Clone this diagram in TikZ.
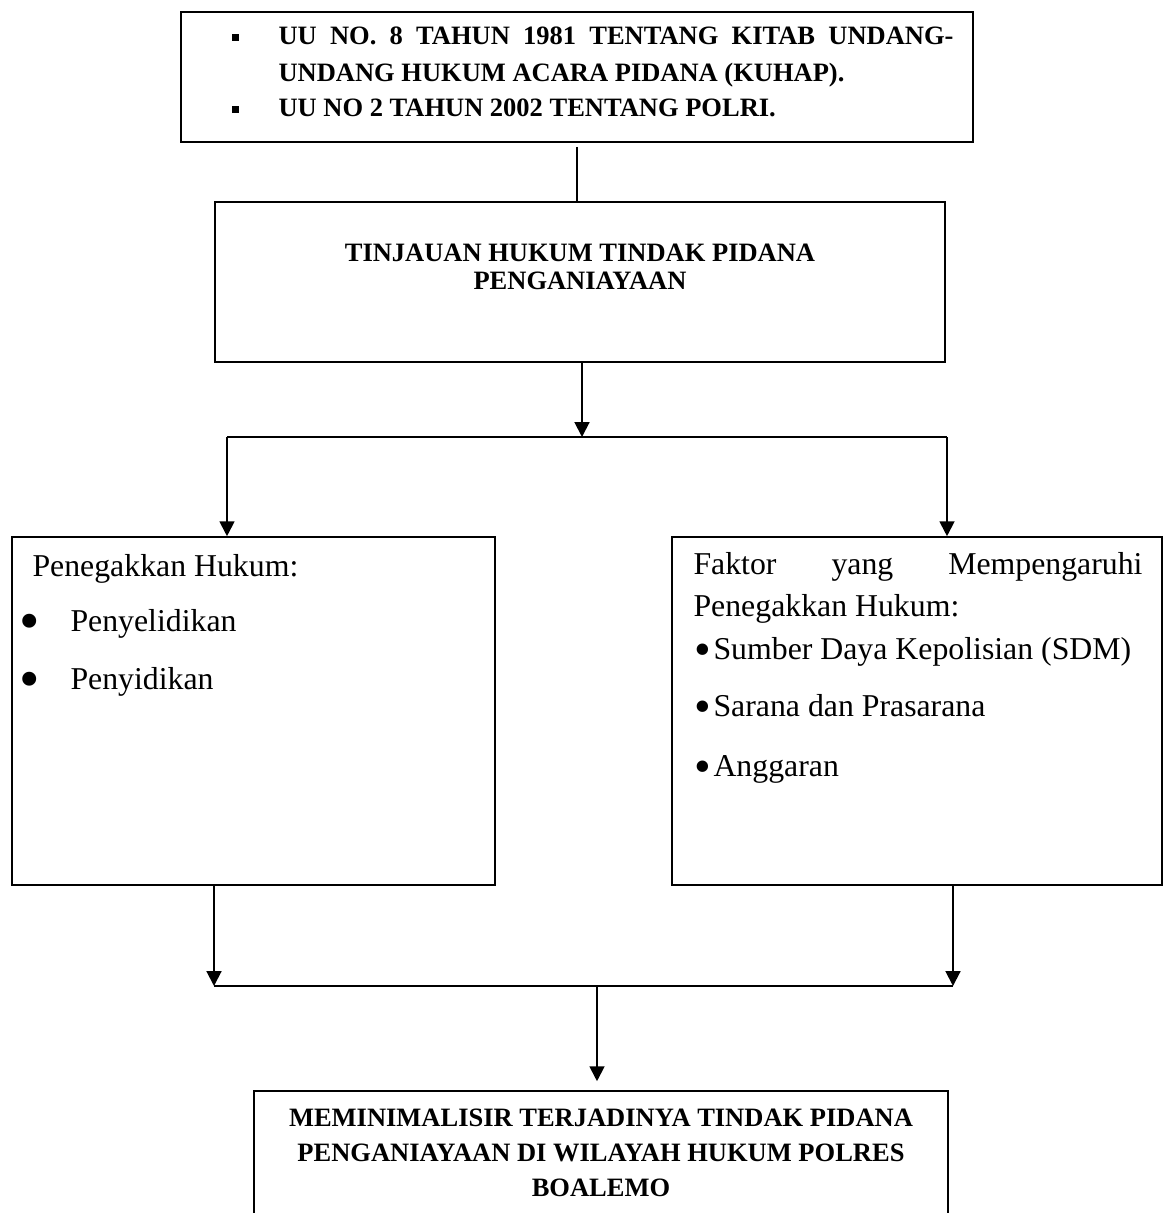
\documentclass[tikz,border=0pt]{standalone}
\usepackage{fontspec}
\setmainfont{Liberation Serif}
\usetikzlibrary{arrows.meta}
\newdimen\unitpx \unitpx=0.3774pt

\begin{document}
\begin{tikzpicture}[
  x=0.3774pt, y=-0.3774pt,
  box/.style={draw=black, line width=0.6pt, rectangle, inner sep=0pt},
  link/.style={line width=0.75pt},
  arrow/.style={link, -{Triangle[length=5.6pt, width=5.6pt]}},
  body/.style={inner sep=0pt, anchor=west, text height=0.7em, text depth=0.2em, font=\fontsize{12}{14}\selectfont},
  caps/.style={body, font=\bfseries\fontsize{10}{12}\selectfont},
  capblock/.style={inner sep=0pt, align=center, font=\bfseries\fontsize{10}{#1}\selectfont},
  dot/.style={inner sep=0pt, font=\fontsize{#1}{#1}\selectfont},
  square/.style={fill=black, inner sep=0pt, minimum size=7\unitpx}
]
\useasboundingbox (0,0) rectangle (1168,1213);
\clip (0,0) rectangle (1168,1213);

% === Boxes ===
\node[box, minimum width=792\unitpx, minimum height=130\unitpx] (lawbox)     at (577,77)   {};
\node[box, minimum width=730\unitpx, minimum height=160\unitpx] (reviewbox)  at (580,282)  {};
\node[box, minimum width=483\unitpx, minimum height=348\unitpx] (enforcebox) at (253.5,711) {};
\node[box, minimum width=490\unitpx, minimum height=348\unitpx] (factorbox)  at (917,711)  {};
\node[box, minimum width=694\unitpx, minimum height=160\unitpx] (goalbox)    at (601,1171) {};

% === Legal basis ===
\node[square] (sqA) at (235,38) {};
\node[square] (sqB) at (235,110) {};
\node[caps] (lawA) at (278,38) {\makebox[675\unitpx][s]{UU NO. 8 TAHUN 1981 TENTANG KITAB UNDANG-}};
\node[caps] (lawB) at (278,75) {UNDANG HUKUM ACARA PIDANA (KUHAP).};
\node[caps] (lawC) at (278,110) {UU NO 2 TAHUN 2002 TENTANG POLRI.};

% === Review ===
\node[capblock=10.6pt] (reviewtxt) at (580,267) {TINJAUAN HUKUM TINDAK PIDANA\\PENGANIAYAAN};

% === Law enforcement ===
\node[body] (enforcehd) at (32,570) {Penegakkan Hukum:};
\node[dot=22pt] (dotA) at (30,627) {\textbullet};
\node[dot=22pt] (dotB) at (30,685) {\textbullet};
\node[body] (inquiry)  at (70,625) {Penyelidikan};
\node[body] (investig) at (70,683) {Penyidikan};

% === Factors ===
\node[body] (factorA) at (693,568) {\makebox[449\unitpx][s]{Faktor yang Mempengaruhi}};
\node[body] (factorB) at (693,610) {Penegakkan Hukum:};
\node[dot=18pt] (dotC) at (703,655) {\textbullet};
\node[dot=18pt] (dotD) at (703,712) {\textbullet};
\node[dot=18pt] (dotE) at (703,772) {\textbullet};
\node[body] (staff)   at (713,653) {Sumber Daya Kepolisian (SDM)};
\node[body] (means)   at (713,710) {Sarana dan Prasarana};
\node[body] (budget)  at (713,770) {Anggaran};

% === Goal ===
\node[capblock=13.2pt] (goaltxt) at (601,1153) {MEMINIMALISIR TERJADINYA TINDAK PIDANA\\PENGANIAYAAN DI WILAYAH HUKUM POLRES\\BOALEMO};

% === Junctions ===
\coordinate (split)  at (582,437);
\coordinate (splitL) at (227,437);
\coordinate (splitR) at (947,437);
\coordinate (merge)  at (597,986);
\coordinate (mergeL) at (214,986);
\coordinate (mergeR) at (953,986);

% === Connectors ===
\draw[link, shorten <=1.5pt] (lawbox.south) -- (reviewbox.north -| lawbox.south);
\draw[arrow] (reviewbox.south -| split) -- (split);
\draw[link] (splitL) -- (splitR);
\draw[arrow] (splitL) -- (enforcebox.north -| splitL);
\draw[arrow] (splitR) -- (factorbox.north -| splitR);
\draw[arrow] (enforcebox.south -| mergeL) -- (mergeL);
\draw[arrow] (factorbox.south -| mergeR) -- (mergeR);
\draw[link] (mergeL) -- (mergeR);
\draw[arrow, shorten >=9\unitpx] (merge) -- (goalbox.north -| merge);

\end{tikzpicture}
\end{document}
